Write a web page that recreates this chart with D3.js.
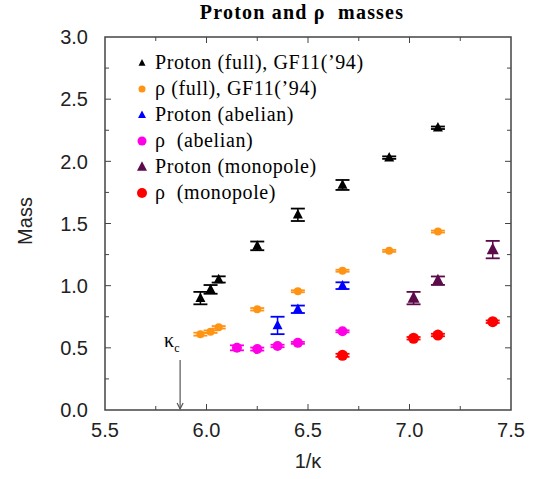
<!DOCTYPE html>
<html lang="en">
<head>
<meta charset="UTF-8">
<title>Proton and rho masses</title>
<script src="https://d3js.org/d3.v7.min.js"></script>
<style>
  body { margin: 0; background: #fff; }
  .tick-label { font-family: "Liberation Sans", Arial, sans-serif; font-size: 20px; fill: #222; }
  .axis-title { font-family: "Liberation Sans", Arial, sans-serif; font-size: 20px; fill: #222; }
  .chart-title { font-family: "Liberation Serif", "Times New Roman", serif; font-size: 20px; font-weight: bold; letter-spacing: 1.2px; white-space: pre; }
  .legend-text { font-family: "Liberation Serif", "Times New Roman", serif; font-size: 20px; letter-spacing: 0.6px; white-space: pre; }
</style>
</head>
<body>
<svg width="549" height="479"></svg>
<script>
// data: 1/kappa, mass, error
const protonFullX = [5.97, 6.02, 6.06, 6.25, 6.45, 6.67, 6.90, 7.14];
const protonFullY = [0.90, 0.97, 1.05, 1.32, 1.57, 1.81, 2.03, 2.27];
const protonFullE = [0.05, 0.035, 0.025, 0.035, 0.05, 0.04, 0.01, 0.01];

const rhoFullX = [5.97, 6.02, 6.06, 6.25, 6.45, 6.67, 6.90, 7.14];
const rhoFullY = [0.61, 0.63, 0.665, 0.81, 0.955, 1.12, 1.28, 1.435];
const rhoFullE = [0.012, 0.01, 0.01, 0.01, 0.008, 0.008, 0.008, 0.008];

const protonAbelX = [6.35, 6.45, 6.67];
const protonAbelY = [0.68, 0.81, 1.00];
const protonAbelE = [0.07, 0.03, 0.027];

const rhoAbelX = [6.15, 6.25, 6.35, 6.45, 6.67];
const rhoAbelY = [0.50, 0.49, 0.515, 0.54, 0.633];
const rhoAbelE = [0.02, 0.012, 0.01, 0.008, 0.008];

const protonMonoX = [7.02, 7.14, 7.41];
const protonMonoY = [0.90, 1.04, 1.29];
const protonMonoE = [0.05, 0.034, 0.07];

const rhoMonoX = [6.67, 7.02, 7.14, 7.41];
const rhoMonoY = [0.44, 0.577, 0.603, 0.71];
const rhoMonoE = [0.012, 0.01, 0.01, 0.01];

const xTicks = [5.5, 6.0, 6.5, 7.0, 7.5];
const yTicks = [0.0, 0.5, 1.0, 1.5, 2.0, 2.5, 3.0];
const kappaC = 5.87;

const series = [
  { name: "Proton (full), GF11(\u201994)", xs: protonFullX, ys: protonFullY, es: protonFullE, color: "#000000", shape: "tri", size: 10, legSize: 7 },
  { name: "\u03c1 (full), GF11(\u201994)", xs: rhoFullX, ys: rhoFullY, es: rhoFullE, color: "#ff9414", shape: "dot", size: 4, legSize: 3.5 },
  { name: "Proton (abelian)", xs: protonAbelX, ys: protonAbelY, es: protonAbelE, color: "#0000ff", shape: "tri", size: 10, legSize: 8 },
  { name: "\u03c1  (abelian)", xs: rhoAbelX, ys: rhoAbelY, es: rhoAbelE, color: "#ff00e6", shape: "dot", size: 5, legSize: 4.5 },
  { name: "Proton (monopole)", xs: protonMonoX, ys: protonMonoY, es: protonMonoE, color: "#5c0a4a", shape: "tri", size: 12, legSize: 10 },
  { name: "\u03c1  (monopole)", xs: rhoMonoX, ys: rhoMonoY, es: rhoMonoE, color: "#ff0000", shape: "dot", size: 5.5, legSize: 5 }
];

const margin = { top: 37, right: 38, bottom: 69, left: 105 };
const W = 549, H = 479;
const width = W - margin.left - margin.right;
const height = H - margin.top - margin.bottom;

const svg = d3.select("svg");
const g = svg.append("g").attr("transform", `translate(${margin.left},${margin.top})`);

const x = d3.scaleLinear().domain([5.5, 7.5]).range([0, width]);
const y = d3.scaleLinear().domain([0, 3]).range([height, 0]);

const axisColor = "#444";

// frame
g.append("rect").attr("width", width).attr("height", height)
  .attr("fill", "none").attr("stroke", axisColor).attr("stroke-width", 1.5);

// inward ticks on all four sides
const xMinor = d3.range(5.75, 7.5, 0.5);
const yMinor = d3.range(0.25, 3.0, 0.5);
function drawTicks(vals, len) {
  vals.forEach(v => {
    g.append("line").attr("x1", x(v)).attr("x2", x(v)).attr("y1", height).attr("y2", height - len).attr("stroke", axisColor);
    g.append("line").attr("x1", x(v)).attr("x2", x(v)).attr("y1", 0).attr("y2", len).attr("stroke", axisColor);
  });
}
function drawYTicks(vals, len) {
  vals.forEach(v => {
    g.append("line").attr("y1", y(v)).attr("y2", y(v)).attr("x1", 0).attr("x2", len).attr("stroke", axisColor);
    g.append("line").attr("y1", y(v)).attr("y2", y(v)).attr("x1", width).attr("x2", width - len).attr("stroke", axisColor);
  });
}
drawTicks(xTicks.slice(1, -1), 6);
drawTicks(xMinor, 4);
drawYTicks(yTicks.slice(1, -1), 6);
drawYTicks(yMinor, 4);

// tick labels
g.selectAll(".xl").data(xTicks).enter().append("text")
  .attr("class", "tick-label").attr("x", d => x(d)).attr("y", height + 27)
  .attr("text-anchor", "middle").text(d => d.toFixed(1));
g.selectAll(".yl").data(yTicks).enter().append("text")
  .attr("class", "tick-label").attr("x", -17).attr("y", d => y(d)).attr("dy", "0.36em")
  .attr("text-anchor", "end").text(d => d.toFixed(1));

// axis titles
svg.append("text").attr("class", "axis-title")
  .attr("x", margin.left + width / 2).attr("y", 468).attr("text-anchor", "middle").text("1/\u03ba");
svg.append("text").attr("class", "axis-title")
  .attr("transform", `translate(32,${margin.top + 184}) rotate(-90)`)
  .attr("text-anchor", "middle").text("Mass");

svg.append("text").attr("class", "chart-title")
  .attr("x", 302).attr("y", 19).attr("text-anchor", "middle")
  .text("Proton and \u03c1  masses");

// kappa_c marker
const kx = x(kappaC);
g.append("line").attr("x1", kx).attr("x2", kx).attr("y1", 323).attr("y2", height - 1)
  .attr("stroke", "#555").attr("stroke-width", 1.2);
g.append("path").attr("d", `M${kx - 3},${height - 7} L${kx},${height - 1} L${kx + 3},${height - 7}`)
  .attr("fill", "none").attr("stroke", "#555").attr("stroke-width", 1.2);
const kt = g.append("text").attr("x", kx - 16).attr("y", 310)
  .style("font-family", "Liberation Serif, serif").style("font-size", "20px");
kt.append("tspan").text("\u03ba");
kt.append("tspan").attr("dy", 5).style("font-size", "12px").text("c");

function triPath(cx, cy, s) {
  const h = s * 0.95;
  return `M${cx},${cy - h * 0.6} L${cx + s / 2},${cy + h * 0.4} L${cx - s / 2},${cy + h * 0.4} Z`;
}

// data points with error bars
series.forEach(s => {
  const pts = s.xs.map((v, i) => ({ x: v, y: s.ys[i], e: s.es[i] }));
  const cap = 7;
  const grp = g.append("g");
  pts.forEach(p => {
    const cx = x(p.x), y1 = y(p.y + p.e), y2 = y(p.y - p.e);
    grp.append("line").attr("x1", cx).attr("x2", cx).attr("y1", y1).attr("y2", y2).attr("stroke", s.color).attr("stroke-width", 1.5);
    grp.append("line").attr("x1", cx - cap).attr("x2", cx + cap).attr("y1", y1).attr("y2", y1).attr("stroke", s.color).attr("stroke-width", 1.8);
    grp.append("line").attr("x1", cx - cap).attr("x2", cx + cap).attr("y1", y2).attr("y2", y2).attr("stroke", s.color).attr("stroke-width", 1.8);
    if (s.shape === "tri") {
      grp.append("path").attr("d", triPath(cx, y(p.y), s.size)).attr("fill", s.color);
    } else {
      grp.append("circle").attr("cx", cx).attr("cy", y(p.y)).attr("r", s.size).attr("fill", s.color);
    }
  });
});

// legend
const leg = svg.append("g");
series.forEach((s, i) => {
  const ly = 63 + i * 26;
  if (s.shape === "tri") {
    leg.append("path").attr("d", triPath(142, ly, s.legSize)).attr("fill", s.color);
  } else {
    leg.append("circle").attr("cx", 142).attr("cy", ly).attr("r", s.legSize).attr("fill", s.color);
  }
  leg.append("text").attr("class", "legend-text")
    .attr("x", 155).attr("y", ly + 6).text(s.name);
});
</script>
</body>
</html>
